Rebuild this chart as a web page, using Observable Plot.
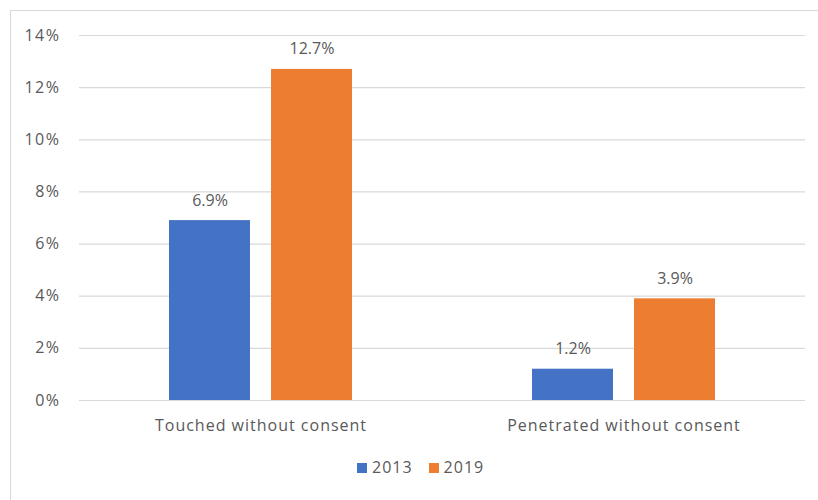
<!DOCTYPE html>
<html>
<head>
<meta charset="utf-8">
<script src="https://cdn.jsdelivr.net/npm/d3@7"></script>
<script src="https://cdn.jsdelivr.net/npm/@observablehq/plot@0.6"></script>
<style>
  body { margin: 0; background: #fff; font-family: "Open Sans", "Liberation Sans", sans-serif; }
  #wrap { position: relative; width: 818px; height: 500px; overflow: hidden; }
  #border { position: absolute; left: 10px; top: 10px; width: 820px; height: 500px;
            border-left: 1px solid #d9d9d9; border-top: 1px solid #d9d9d9; box-sizing: border-box; }
  #chart { position: absolute; left: 0; top: 0; }
  #chart svg g[aria-label="y-axis tick label"] text { letter-spacing: 1.5px; }
  #chart svg g[aria-label="fx-axis tick label"] text { letter-spacing: 1px; }
  #legend { position: absolute; top: 456px; left: 357px; white-space: nowrap; font-size: 16px; letter-spacing: 1px; color: #595959; }
  #legend span.item { display: inline-block; margin-right: 16px; }
  #legend span.sw { display: inline-block; width: 10px; height: 10px; margin-right: 5px; vertical-align: 0px; }
</style>
</head>
<body>
<div id="wrap">
  <div id="border"></div>
  <div id="chart"></div>
  <div id="legend"></div>
</div>
<script>
const categories = ["Touched without consent", "Penetrated without consent"];
const years = ["2013", "2019"];
const values2013 = [0.069, 0.012];
const values2019 = [0.127, 0.039];
const colors = ["#4472C4", "#ED7D31"];
const yTicks = [0, 0.02, 0.04, 0.06, 0.08, 0.10, 0.12, 0.14];

const data = [];
categories.forEach((c, i) => {
  data.push({category: c, year: years[0], value: values2013[i]});
  data.push({category: c, year: years[1], value: values2019[i]});
});

const chart = Plot.plot({
  width: 818,
  height: 445,
  marginLeft: 78,
  marginRight: 13,
  marginTop: 35,
  marginBottom: 45,
  style: {fontFamily: "'Open Sans', 'Liberation Sans', sans-serif", fontSize: "16px", color: "#595959", background: "transparent"},
  fx: {domain: categories, padding: 0, label: null, axis: "bottom", tickSize: 0, tickPadding: 19},
  x: {domain: years, paddingInner: 0.206, paddingOuter: 0.87, axis: null},
  y: {domain: [0, 0.14], ticks: yTicks, tickFormat: d3.format(".0%"), label: null, tickSize: 0, tickPadding: 19},
  color: {domain: years, range: colors},
  marks: [
    Plot.gridY(yTicks, {stroke: "#d9d9d9", strokeOpacity: 1, strokeWidth: 1.2}),
    Plot.barY(data, {fx: "category", x: "year", y: "value", fill: "year"}),
    Plot.text(data, {fx: "category", x: "year", y: "value", text: d => (d.value * 100).toFixed(1) + "%",
      lineAnchor: "bottom", dy: -15, fill: "#595959", fontSize: 16, style: "letter-spacing:0.5px"})
  ]
});
document.getElementById("chart").appendChild(chart);

const legend = document.getElementById("legend");
years.forEach((y, i) => {
  const item = document.createElement("span");
  item.className = "item";
  const sw = document.createElement("span");
  sw.className = "sw";
  sw.style.background = colors[i];
  item.appendChild(sw);
  item.appendChild(document.createTextNode(y));
  legend.appendChild(item);
});
</script>
</body>
</html>
